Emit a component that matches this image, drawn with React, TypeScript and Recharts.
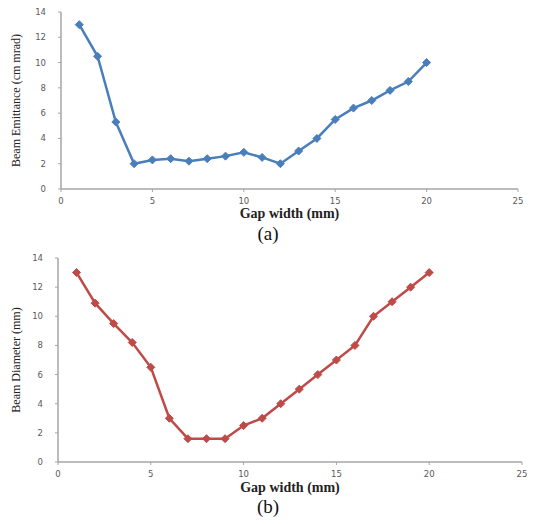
import { LineChart, Line, XAxis, YAxis, Label } from "recharts";

const gapWidth = [1, 2, 3, 4, 5, 6, 7, 8, 9, 10, 11, 12, 13, 14, 15, 16, 17, 18, 19, 20];
const emittance = [13, 10.5, 5.3, 2.0, 2.3, 2.4, 2.2, 2.4, 2.6, 2.9, 2.5, 2.0, 3.0, 4.0, 5.5, 6.4, 7.0, 7.8, 8.5, 10];
const diameter = [13, 10.9, 9.5, 8.2, 6.5, 3.0, 1.6, 1.6, 1.6, 2.5, 3.0, 4.0, 5.0, 6.0, 7.0, 8.0, 10, 11, 12, 13];
const xTicks = [0, 5, 10, 15, 20, 25];
const yTicks = [0, 2, 4, 6, 8, 10, 12, 14];

const emittanceData = gapWidth.map((g, i) => ({ gap: g, value: emittance[i] }));
const diameterData = gapWidth.map((g, i) => ({ gap: g, value: diameter[i] }));

const tickStyle = { fill: "#595959", fontSize: 8.5, fontFamily: "DejaVu Sans" };
const axisStroke = "#a6a6a6";

const diamond = (color: string) => (props: any) => {
  const { cx, cy, index } = props;
  if (cx == null || cy == null) return <g key={index} />;
  const r = 4;
  return (
    <path
      key={index}
      d={`M${cx},${cy - r}L${cx + r},${cy}L${cx},${cy + r}L${cx - r},${cy}Z`}
      fill={color}
      stroke={color}
    />
  );
};

type PanelProps = {
  data: { gap: number; value: number }[];
  color: string;
  yLabel: string;
  height: number;
  margin: { top: number; right: number; left: number; bottom: number };
  yWidth: number;
  xHeight: number;
};

const Panel = ({ data, color, yLabel, height, margin, yWidth, xHeight }: PanelProps) => (
  <LineChart width={536} height={height} data={data} margin={margin}>
    <XAxis
      dataKey="gap"
      type="number"
      domain={[0, 25]}
      ticks={xTicks}
      tick={tickStyle}
      tickSize={3}
      tickMargin={6}
      height={xHeight}
      stroke={axisStroke}
      axisLine={{ stroke: axisStroke, strokeWidth: 1.5 }}
    >
      <Label
        value="Gap width (mm)"
        position="insideBottom"
        offset={4}
        style={{ fill: "#222", fontSize: 14, fontWeight: "bold", fontFamily: "Liberation Serif" }}
      />
    </XAxis>
    <YAxis
      type="number"
      domain={[0, 14]}
      ticks={yTicks}
      tick={tickStyle}
      tickSize={3}
      tickMargin={12}
      width={yWidth}
      stroke={axisStroke}
      axisLine={{ stroke: axisStroke, strokeWidth: 1.5 }}
    >
      <Label
        value={yLabel}
        angle={-90}
        position="insideLeft"
        offset={16}
        style={{ textAnchor: "middle", fill: "#222", fontSize: 12, fontFamily: "Liberation Serif" }}
      />
    </YAxis>
    <Line
      type="linear"
      dataKey="value"
      stroke={color}
      strokeWidth={2.5}
      dot={diamond(color)}
      isAnimationActive={false}
    />
  </LineChart>
);

const captionStyle = {
  position: "absolute" as const,
  fontFamily: "Liberation Serif",
  fontSize: 19,
  color: "#111",
  width: 40,
  textAlign: "center" as const,
};

export default function App() {
  return (
    <div style={{ position: "absolute", top: 0, left: 0, width: 536, height: 524, background: "#fff" }}>
      <div style={{ position: "absolute", top: 0, left: 0 }}>
        <Panel
          data={emittanceData}
          color="#4a7ebb"
          yLabel="Beam Emittance (cm mrad)"
          height={222}
          margin={{ top: 12, right: 18, left: 0, bottom: 0 }}
          yWidth={61}
          xHeight={33}
        />
      </div>
      <div style={{ ...captionStyle, top: 223, left: 248 }}>(a)</div>
      <div style={{ position: "absolute", top: 250, left: 0 }}>
        <Panel
          data={diameterData}
          color="#be4b48"
          yLabel="Beam Diameter (mm)"
          height={246}
          margin={{ top: 8, right: 14, left: 0, bottom: 0 }}
          yWidth={58}
          xHeight={34}
        />
      </div>
      <div style={{ ...captionStyle, top: 496, left: 248 }}>(b)</div>
    </div>
  );
}
